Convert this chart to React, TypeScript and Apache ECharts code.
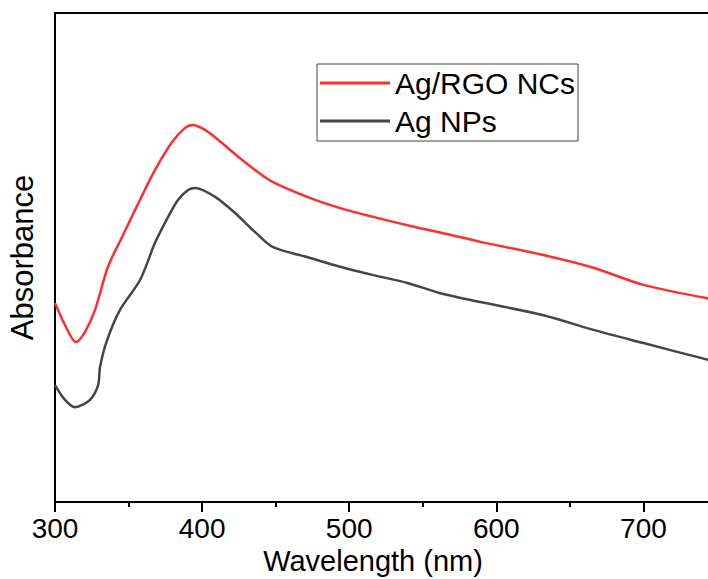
import React, { useEffect, useRef } from "react";
import * as echarts from "echarts";

const wavelengthsRed = [300, 306.8, 314.3, 320.4, 327.2, 336, 345.6, 357.8, 368, 379.6, 388.4, 393.2, 402, 413.6, 424.5, 436, 448.3, 471.4, 493.9, 516.3, 539.5, 561.9, 589.1, 632, 666, 700, 750];
const absRed = [40.7, 36.2, 32.7, 34.8, 39.3, 48.1, 54.2, 61.8, 67.9, 73.6, 76.5, 77.1, 76.1, 73.4, 70.6, 67.9, 65.4, 62.4, 60.1, 58.3, 56.6, 55.1, 53.2, 50.5, 47.9, 44.4, 41.3];

const wavelengthsBlack = [300, 306.8, 313.6, 323.8, 329.3, 330.6, 335.4, 344.2, 357.8, 368, 376.9, 383.7, 390.5, 395.2, 408.8, 422.4, 436, 448.3, 471.4, 493.9, 516.3, 539.5, 561.9, 589.1, 632, 666, 700, 750];
const absBlack = [23.9, 20.9, 19.4, 20.9, 23.9, 27.6, 33.1, 39.3, 45.4, 53.0, 58.3, 61.8, 63.8, 64.2, 62.4, 59.1, 55.2, 52.1, 50.1, 48.1, 46.4, 44.8, 42.7, 40.9, 38.2, 35.2, 32.5, 28.6];

const seriesNames = ["Ag/RGO NCs", "Ag NPs"];
const xTicks = [300, 400, 500, 600, 700];

const FONT = "'Liberation Sans', Arial, sans-serif";

export default function App() {
  const ref = useRef<HTMLDivElement>(null);
  useEffect(() => {
    document.body.style.margin = "0";
    document.body.style.overflow = "hidden";
    const chart = echarts.init(ref.current!, null, { renderer: "svg" });
    const zip = (xs: number[], ys: number[]) => xs.map((x, i) => [x, ys[i]]);
    chart.setOption({
      animation: false,
      textStyle: { fontFamily: FONT },
      grid: { left: 55, right: 0, top: 13, bottom: 77, containLabel: false, outerBoundsMode: "none" },
      legend: {
        orient: "vertical",
        left: 317,
        top: 64,
        data: seriesNames,
        icon: "rect",
        itemWidth: 70,
        itemHeight: 3,
        itemGap: 8,
        padding: [4, 3, 5, 3],
        borderColor: "#444",
        borderWidth: 1,
        textStyle: { fontSize: 30, color: "#000", fontFamily: FONT },
      },
      xAxis: [
        {
          type: "value",
          min: 300,
          max: 750,
          interval: 100,
          name: "Wavelength (nm)",
          nameLocation: "middle",
          nameGap: 43,
          nameTextStyle: { fontSize: 29, color: "#000", fontFamily: FONT, padding: [0, 26, 0, 0] },
          axisLine: { show: true, lineStyle: { color: "#000", width: 2 } },
          axisTick: { show: true, length: 10, lineStyle: { color: "#000", width: 2 } },
          minorTick: { show: true, splitNumber: 2, length: 5, lineStyle: { color: "#000", width: 2 } },
          axisLabel: {
            fontSize: 28,
            color: "#000",
            margin: 12,
            fontFamily: FONT,
            formatter: (v: number) => (xTicks.includes(v) ? String(v) : ""),
          },
          splitLine: { show: false },
        },
        {
          type: "value",
          position: "top",
          min: 300,
          max: 750,
          axisLine: { show: true, lineStyle: { color: "#000", width: 2 } },
          axisTick: { show: false },
          axisLabel: { show: false },
          splitLine: { show: false },
        },
      ],
      yAxis: {
        type: "value",
        min: 0,
        max: 100,
        name: "Absorbance",
        nameLocation: "middle",
        nameGap: 17,
        nameTextStyle: { fontSize: 31, color: "#000", fontFamily: FONT },
        axisLine: { show: true, lineStyle: { color: "#000", width: 2 } },
        axisTick: { show: false },
        axisLabel: { show: false },
        splitLine: { show: false },
      },
      series: [
        {
          name: seriesNames[0],
          type: "line",
          data: zip(wavelengthsRed, absRed),
          smooth: 0.3,
          showSymbol: false,
          lineStyle: { color: "#ff2e2e", width: 2.5 },
          itemStyle: { color: "#ff2e2e" },
        },
        {
          name: seriesNames[1],
          type: "line",
          data: zip(wavelengthsBlack, absBlack),
          smooth: 0.3,
          showSymbol: false,
          lineStyle: { color: "#454545", width: 2.5 },
          itemStyle: { color: "#454545" },
        },
      ],
    });
    return () => chart.dispose();
  }, []);
  return (
    <div style={{ width: 708, height: 579, overflow: "hidden" }}>
      <div ref={ref} style={{ width: 717, height: 579 }} />
    </div>
  );
}
